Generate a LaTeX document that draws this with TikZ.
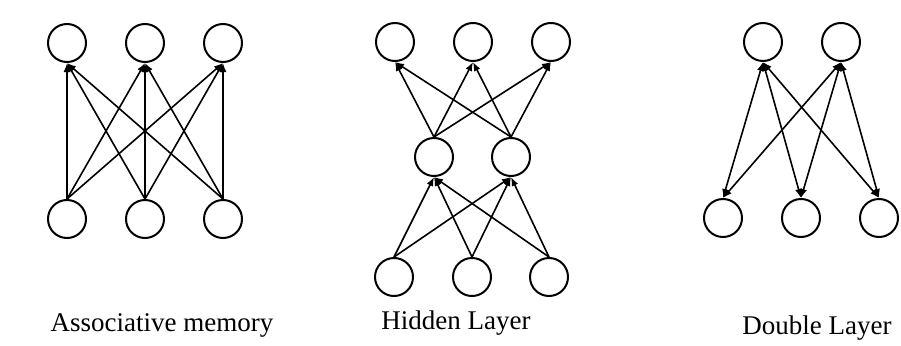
\documentclass[tikz,border=0pt]{standalone}
\usepackage{fontspec}
\setmainfont{Liberation Serif}
\usetikzlibrary{arrows.meta}
\begin{document}
\begin{tikzpicture}[x=1pt,y=-1pt,
  neuron/.style={circle,draw,line width=2pt,minimum size=38pt,inner sep=0pt},
  link/.style={line width=1.6pt,-{Latex[length=9pt,width=7pt]}},
  blink/.style={line width=1.6pt,{Latex[length=9pt,width=7pt]}-{Latex[length=9pt,width=7pt]}},
  lbl/.style={font=\fontsize{27}{32}\selectfont,anchor=base,inner sep=0pt}
]
\useasboundingbox (0,0) rectangle (901,345);
% Associative memory
\foreach \i/\x in {1/67,2/145,3/223}{
  \node[neuron] (At\i) at (\x,43) {};
  \node[neuron] (Ab\i) at (\x,219) {};
}
\foreach \i in {1,2,3}{\foreach \j in {1,2,3}{
  \draw[link] (Ab\i.north) -- (At\j.south);
}}
% Hidden layer
\foreach \i/\x in {1/395,2/473,3/551}{\node[neuron] (Ht\i) at (\x,42) {};}
\foreach \i/\x in {1/434,2/511}{\node[neuron] (Hm\i) at (\x,157) {};}
\foreach \i/\x in {1/394,2/472,3/549}{\node[neuron] (Hb\i) at (\x,277) {};}
\foreach \i in {1,2,3}{\foreach \j in {1,2}{
  \draw[link] (Hb\i.north) -- (Hm\j.south);
  \draw[link] (Hm\j.north) -- (Ht\i.south);
}}
% Double layer
\foreach \i/\x in {1/763,2/841}{\node[neuron] (Dt\i) at (\x,42) {};}
\foreach \i/\x in {1/723,2/801,3/879}{\node[neuron] (Db\i) at (\x,218) {};}
\foreach \i in {1,2}{\foreach \j in {1,2,3}{
  \draw[blink] (Dt\i.south) -- (Db\j.north);
}}
% labels
\node[lbl] (LA) at (162,331) {Associative memory};
\node[lbl] (LH) at (456,329) {Hidden Layer};
\node[lbl] (LD) at (817,334) {Double Layer};
\end{tikzpicture}
\end{document}
